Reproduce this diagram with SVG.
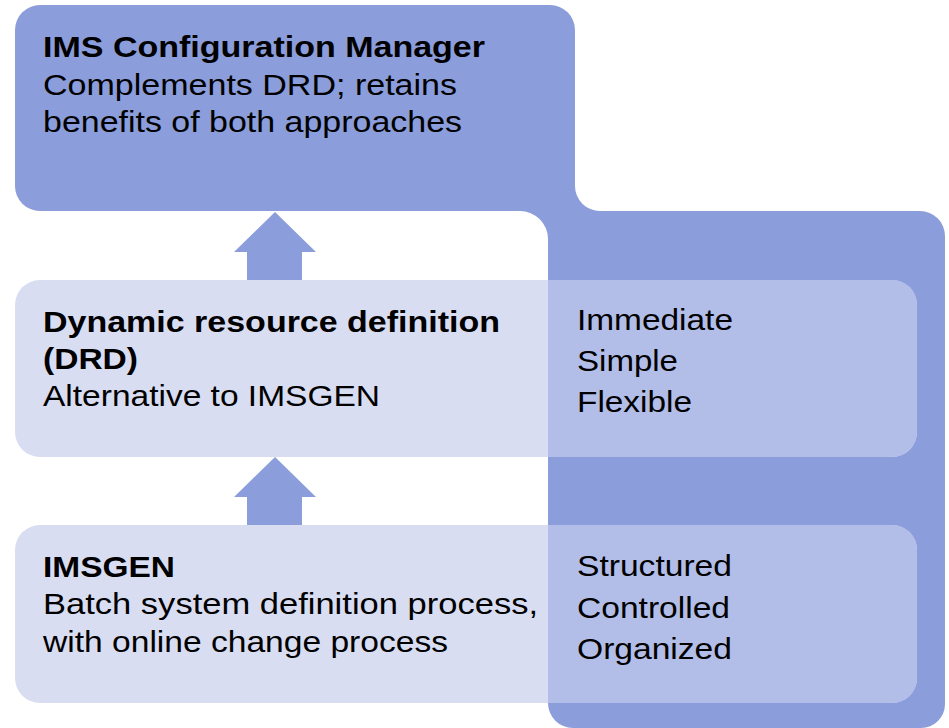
<svg xmlns="http://www.w3.org/2000/svg" width="949" height="728" viewBox="0 0 949 728">
<style>
.blue{fill:#8b9ddb}
.light{fill:#d9ddf2}
.mid{fill:#b2bde8}
text{font-family:"Liberation Sans",Arial,sans-serif;font-size:30px;fill:#000}
.b{font-weight:bold}
</style>
<defs>
<polygon id="uparrow" points="275,212 316,252 302,252 302,281 247,281 247,252 234,252"/>
</defs>
<g id="backdrop">
<path class="blue" d="M40,5 H550 A25,25 0 0 1 575,30 V186 A25,25 0 0 0 600,211 H920 A25,25 0 0 1 945,236 V704 A24,24 0 0 1 921,728 H573 A25,25 0 0 1 548,703 V239 A28,28 0 0 0 520,211 H40 A25,25 0 0 1 15,186 V30 A25,25 0 0 1 40,5 Z"/>
</g>
<g id="connectors">
<use href="#uparrow" class="blue"/>
<use href="#uparrow" class="blue" transform="translate(0,245)"/>
</g>
<g id="ims-config-manager">
<text class="b" x="43" y="57" textLength="442" lengthAdjust="spacingAndGlyphs">IMS Configuration Manager</text>
<text x="43" y="95" textLength="414" lengthAdjust="spacingAndGlyphs">Complements DRD; retains</text>
<text x="43" y="132" textLength="419" lengthAdjust="spacingAndGlyphs">benefits of both approaches</text>
</g>
<g id="drd">
<rect class="light" x="15" y="280" width="902" height="177" rx="25" ry="25"/>
<path class="mid" d="M548,280 H892 A25,25 0 0 1 917,305 V432 A25,25 0 0 1 892,457 H548 Z"/>
<text class="b" x="43" y="332" textLength="457" lengthAdjust="spacingAndGlyphs">Dynamic resource definition</text>
<text class="b" x="43" y="369" textLength="95" lengthAdjust="spacingAndGlyphs">(DRD)</text>
<text x="43" y="406" textLength="337" lengthAdjust="spacingAndGlyphs">Alternative to IMSGEN</text>
<text x="577" y="330" textLength="156" lengthAdjust="spacingAndGlyphs">Immediate</text>
<text x="577" y="371" textLength="101" lengthAdjust="spacingAndGlyphs">Simple</text>
<text x="577" y="412" textLength="115" lengthAdjust="spacingAndGlyphs">Flexible</text>
</g>
<g id="imsgen">
<rect class="light" x="15" y="525" width="902" height="178" rx="25" ry="25"/>
<path class="mid" d="M548,525 H892 A25,25 0 0 1 917,550 V678 A25,25 0 0 1 892,703 H548 Z"/>
<text class="b" x="43" y="577" textLength="132" lengthAdjust="spacingAndGlyphs">IMSGEN</text>
<text x="43" y="614" textLength="495" lengthAdjust="spacingAndGlyphs">Batch system definition process,</text>
<text x="43" y="652" textLength="405" lengthAdjust="spacingAndGlyphs">with online change process</text>
<text x="577" y="576" textLength="155" lengthAdjust="spacingAndGlyphs">Structured</text>
<text x="577" y="618" textLength="153" lengthAdjust="spacingAndGlyphs">Controlled</text>
<text x="577" y="659" textLength="155" lengthAdjust="spacingAndGlyphs">Organized</text>
</g>
</svg>
